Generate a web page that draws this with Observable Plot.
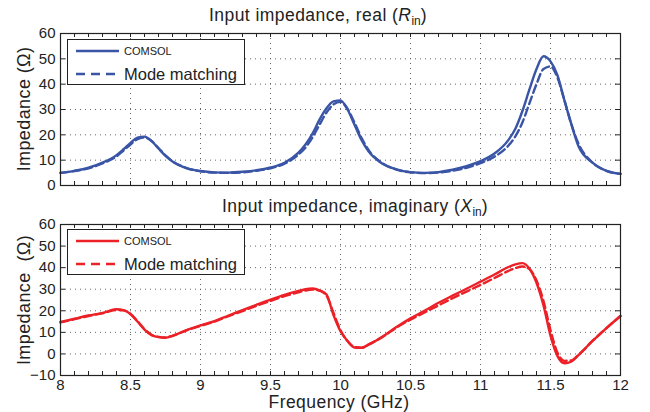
<!DOCTYPE html>
<html>
<head>
<meta charset="utf-8">
<script src="https://cdn.jsdelivr.net/npm/d3@7"></script>
<script src="https://cdn.jsdelivr.net/npm/@observablehq/plot@0.6"></script>
<style>
  body { margin: 0; background: #fff; }
  #wrap { position: relative; width: 650px; height: 412px; font-family: "Liberation Sans", Arial, Helvetica, sans-serif; color: #222; }
  .abs { position: absolute; }
  .title { font-size: 17.5px; line-height: 1; letter-spacing: 0.45px; white-space: nowrap; transform: translate(-50%, -50%); }
  .ylab { font-size: 18px; line-height: 1; letter-spacing: 0.4px; white-space: nowrap; transform: translate(-50%, -50%) rotate(-90deg); }
  .legend { background: #fff; border: 1px solid #222; box-sizing: border-box; }
  .legend .row { position: absolute; left: 8px; height: 20px; display: flex; align-items: center; }
  .legend svg { display: block; }
  .legend .lt { margin-left: 5px; white-space: nowrap; }
  sub { font-size: 12px; vertical-align: -4px; letter-spacing: 0; line-height: 1; }
</style>
</head>
<body>
<div id="wrap"></div>
<script>
// ---- data ----
const freq = [8.0, 8.1, 8.2, 8.3, 8.4, 8.45, 8.5, 8.55, 8.6, 8.65, 8.7, 8.75, 8.8, 8.9, 9.0, 9.1, 9.2, 9.3, 9.4, 9.5, 9.6, 9.7, 9.75, 9.8, 9.85, 9.9, 9.95, 10.0, 10.05, 10.1, 10.15, 10.2, 10.3, 10.4, 10.5, 10.6, 10.7, 10.8, 10.9, 11.0, 11.1, 11.2, 11.25, 11.3, 11.35, 11.4, 11.45, 11.5, 11.55, 11.6, 11.65, 11.7, 11.8, 11.9, 12.0];

const realComsol = [5.0, 5.8, 7.0, 9.0, 12.0, 14.3, 16.8, 18.9, 19.3, 17.6, 14.6, 11.7, 9.5, 6.9, 5.7, 5.2, 5.1, 5.4, 6.0, 7.1, 9.0, 13.0, 16.2, 20.5, 26.0, 30.5, 33.2, 33.6, 30.0, 24.0, 18.0, 13.5, 8.6, 6.4, 5.3, 5.0, 5.3, 6.2, 7.6, 9.6, 12.6, 18.0, 22.5, 29.5, 38.0, 46.0, 51.0, 49.0, 43.5, 33.5, 24.0, 15.5, 9.0, 5.8, 4.6];

const realModeMatching = [5.0, 5.7, 6.8, 8.7, 11.5, 13.8, 16.2, 18.3, 18.9, 17.6, 14.8, 11.9, 9.6, 6.9, 5.6, 5.1, 5.0, 5.2, 5.8, 6.8, 8.6, 12.2, 15.0, 19.0, 24.0, 28.8, 32.0, 33.0, 30.3, 24.8, 18.8, 14.0, 8.8, 6.3, 5.2, 4.9, 5.1, 5.8, 7.0, 8.8, 11.4, 15.8, 19.5, 25.0, 32.5, 40.0, 46.0, 47.0, 42.5, 33.5, 24.0, 16.5, 9.0, 5.8, 4.6];

const imagComsol = [14.8, 16.3, 17.8, 19.0, 20.7, 20.3, 18.5, 15.0, 11.3, 8.7, 7.8, 7.5, 8.4, 11.0, 13.2, 15.2, 17.8, 20.3, 22.8, 25.2, 27.4, 29.2, 30.0, 30.3, 29.5, 27.5, 18.0, 10.5, 6.0, 3.0, 2.8, 4.3, 8.0, 12.5, 16.5, 20.0, 23.7, 27.0, 30.2, 33.5, 36.8, 40.3, 41.5, 42.1, 39.5, 33.0, 22.5, 8.5, -1.0, -4.3, -3.5, -0.6, 6.0, 12.0, 17.6];

const imagModeMatching = [14.6, 16.1, 17.6, 18.8, 20.4, 20.2, 18.5, 15.2, 11.5, 8.9, 7.9, 7.6, 8.4, 10.9, 13.0, 15.0, 17.5, 19.9, 22.3, 24.6, 26.8, 28.6, 29.4, 29.8, 29.3, 27.0, 19.0, 11.0, 6.0, 3.2, 2.9, 4.3, 7.9, 12.2, 15.9, 19.2, 22.5, 25.8, 28.9, 32.0, 35.2, 38.5, 39.8, 40.5, 39.3, 34.0, 24.5, 11.0, 0.5, -3.2, -3.0, -0.4, 6.0, 12.0, 17.6];

const xTicks = [8, 8.5, 9, 9.5, 10, 10.5, 11, 11.5, 12];
const yTicksReal = [0, 10, 20, 30, 40, 50, 60];
const yTicksImag = [-10, 0, 10, 20, 30, 40, 50, 60];
const seriesNames = ["COMSOL", "Mode matching"];
const blue = "#3a55a6";
const red = "#ec2027";

// ---- helpers ----
const xMinor = d3.range(80, 121).map(d => d / 10);
const W = 650, ML = 60, MR = 30;
const plotW = W - ML - MR;

function panel({height, marginTop, marginBottom, yDomain, yTicks, solid, dashed, color, showXLabels}) {
  const plotH = height - marginTop - marginBottom;
  const rowsSolid = freq.map((f, i) => ({f, v: solid[i]}));
  const rowsDashed = freq.map((f, i) => ({f, v: dashed[i]}));
  const grid = {stroke: "#555", strokeOpacity: 0.9, strokeDasharray: "1,4", strokeWidth: 1};
  return Plot.plot({
    width: W, height, marginLeft: ML, marginRight: MR, marginTop, marginBottom,
    x: {domain: [8, 12], axis: showXLabels ? "bottom" : null, ticks: xTicks, tickSize: 0, tickPadding: 4, label: null, tickFormat: d => String(d)},
    y: {domain: yDomain, ticks: yTicks, tickSize: 0, tickPadding: 5, label: null},
    style: {fontFamily: "'Liberation Sans', Arial, Helvetica, sans-serif", fontSize: "15px", color: "#222", background: "transparent", overflow: "visible"},
    marks: [
      Plot.ruleX(xTicks.slice(1, -1), grid),
      Plot.ruleY(yTicks.slice(1, -1), grid),
      // inward ticks (MATLAB style)
      Plot.ruleX(xMinor, {insetTop: plotH - 4, stroke: "#222"}),
      Plot.ruleX(xMinor, {insetBottom: plotH - 4, stroke: "#222"}),
      Plot.ruleY(yTicks, {insetLeft: plotW - 5, stroke: "#222"}),
      Plot.ruleY(yTicks, {insetRight: plotW - 5, stroke: "#222"}),
      Plot.line(rowsDashed, {x: "f", y: "v", stroke: color, strokeWidth: 2.4, strokeDasharray: "8,4", curve: "monotone-x"}),
      Plot.line(rowsSolid, {x: "f", y: "v", stroke: color, strokeWidth: 2.4, curve: "monotone-x"}),
      Plot.frame({stroke: "#222", strokeWidth: 1.2})
    ]
  });
}

const wrap = document.getElementById("wrap");

function place(el, left, top) {
  el.classList.add("abs");
  el.style.left = left + "px";
  el.style.top = top + "px";
  wrap.appendChild(el);
  return el;
}

function addText(html, cls, x, y) {
  const d = document.createElement("div");
  d.className = cls;
  d.innerHTML = html;
  return place(d, x, y);
}

function addLegend(top, color) {
  const box = document.createElement("div");
  box.className = "legend";
  box.style.width = "178px";
  box.style.height = "46px";
  seriesNames.forEach((name, i) => {
    const row = document.createElement("div");
    row.className = "row";
    row.style.top = (i === 0 ? 1 : 24) + "px";
    const svg = d3.create("svg").attr("width", 43).attr("height", 10);
    svg.append("line").attr("x1", 0).attr("x2", 43).attr("y1", 5).attr("y2", 5)
      .attr("stroke", color).attr("stroke-width", 2.6)
      .attr("stroke-dasharray", i === 0 ? null : "9,6");
    row.appendChild(svg.node());
    const t = document.createElement("span");
    t.className = "lt";
    t.textContent = name;
    t.style.fontSize = i === 0 ? "11px" : "16.5px";
    row.appendChild(t);
    box.appendChild(row);
  });
  place(box, 67, top);
}

// top panel
const top1 = panel({height: 200, marginTop: 33, marginBottom: 15, yDomain: [0, 60], yTicks: yTicksReal,
  solid: realComsol, dashed: realModeMatching, color: blue, showXLabels: false});
place(top1, 0, 0);
// bottom panel
const bot = panel({height: 212, marginTop: 24, marginBottom: 37, yDomain: [-10, 60], yTicks: yTicksImag,
  solid: imagComsol, dashed: imagModeMatching, color: red, showXLabels: true});
place(bot, 0, 200);

addText("Input impedance, real (<i>R</i><sub>in</sub>)", "title", 318, 17);
addText("Input impedance, imaginary (<i>X</i><sub>in</sub>)", "title", 355, 208);
addText("Impedance (Ω)", "ylab", 24, 109);
addText("Impedance&nbsp;&nbsp;(Ω)", "ylab", 24, 300);
addText("Frequency (GHz)", "title", 339, 403);

addLegend(39, blue);
addLegend(229, red);
</script>
</body>
</html>
